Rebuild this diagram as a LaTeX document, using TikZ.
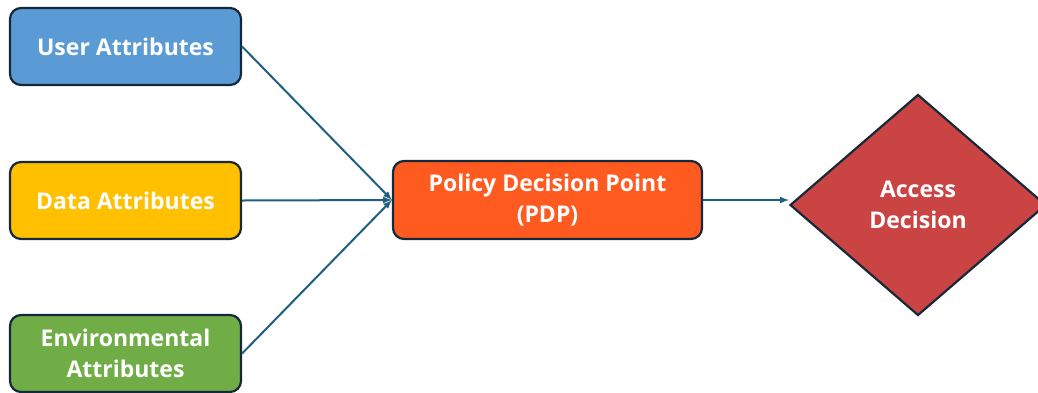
\documentclass[tikz,border=0pt]{standalone}
\usepackage{fontspec}
\setmainfont{Open Sans}
\usetikzlibrary{shapes.geometric}

\definecolor{edgeblue}{HTML}{1F5F80}
\definecolor{boxline}{HTML}{17283A}
\definecolor{userblue}{HTML}{5B9BD5}
\definecolor{datayellow}{HTML}{FFC000}
\definecolor{envgreen}{HTML}{70AD47}
\definecolor{pdporange}{HTML}{FF5A20}
\definecolor{accessred}{HTML}{CA4444}

\begin{document}
\begin{tikzpicture}[x=1pt,y=-1pt,
    attr/.style={draw=boxline, line width=2.2pt, rounded corners=11pt,
        minimum width=231pt, minimum height=77pt, text=white,
        align=center, font=\fontsize{23}{31}\selectfont\bfseries},
    decision/.style={diamond, draw=boxline, line width=2.2pt, fill=accessred,
        minimum width=256pt, minimum height=221pt, inner sep=0pt, text=white,
        align=center, font=\fontsize{23}{31}\selectfont\bfseries},
    flow/.style={->, >=latex, draw=edgeblue, line width=2pt}]
    \useasboundingbox (0,0) rectangle (1038,392);

    \node[attr, fill=userblue]   (user) at (125.5,46.5) {User Attributes};
    \node[attr, fill=datayellow] (data) at (125.5,200.5) {Data Attributes};
    \node[attr, fill=envgreen]   (env)  at (125.5,353.5) {Environmental\\Attributes};

    \node[attr, fill=pdporange, minimum width=309pt, minimum height=78pt]
        (pdp) at (547.5,200) {Policy Decision Point\\(PDP)};
    \node[decision] (access) at (918,205) {Access\\Decision};

    \draw[flow] (user.east) -- (pdp.west);
    \draw[flow] (data.east) -- (pdp.west);
    \draw[flow] (env.east) -- (pdp.west);
    \draw[flow] (pdp.east) -- (pdp.east -| access.west);
\end{tikzpicture}
\end{document}
